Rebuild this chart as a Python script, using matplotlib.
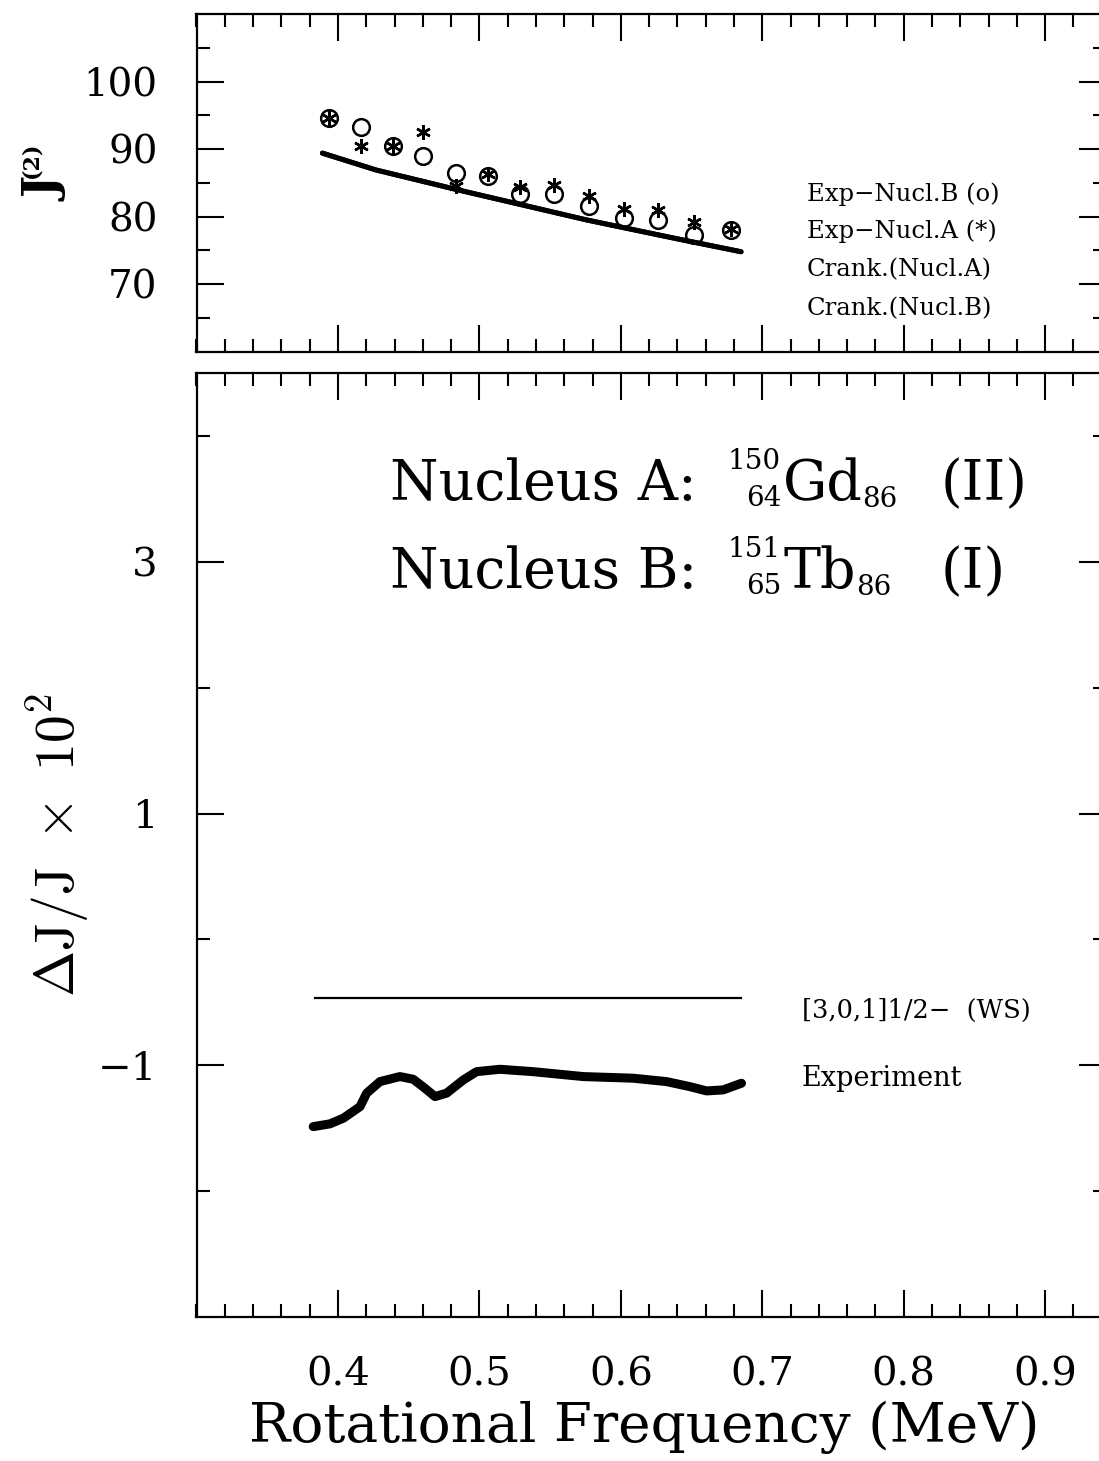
import matplotlib
matplotlib.use('Agg')
import matplotlib.pyplot as plt
from matplotlib.ticker import FixedLocator, FixedFormatter, NullFormatter

plt.rcParams['font.family'] = ['DejaVu Serif']
plt.rcParams['mathtext.fontset'] = 'cm'
plt.rcParams['axes.unicode_minus'] = True

# ---------------- data ----------------
omega_exp = [0.394, 0.4165, 0.439, 0.460, 0.4835, 0.506, 0.529, 0.553, 0.5776, 0.602, 0.626, 0.652, 0.678]
j2_nucl_b = [94.55, 93.3, 90.5, 89.0, 86.5, 86.0, 83.3, 83.3, 81.5, 79.8, 79.5, 77.3, 78.0]
j2_nucl_a = [94.6, 90.5, 90.5, 92.6, 84.5, 86.3, 84.4, 84.7, 83.0, 81.2, 81.0, 79.2, 78.2]

omega_crank = [0.389, 0.427, 0.486, 0.531, 0.576, 0.639, 0.685]
j2_crank_a = [89.4, 86.9, 83.9, 81.7, 79.5, 76.75, 74.8]
j2_crank_b = [89.4, 86.9, 83.9, 81.7, 79.5, 76.75, 74.8]

omega_dj = [0.3825, 0.3943, 0.4038, 0.4156, 0.4203, 0.4297, 0.4438, 0.4532, 0.4615, 0.4686,
            0.4768, 0.4886, 0.4980, 0.5145, 0.5380, 0.5734, 0.6087, 0.6323, 0.6488, 0.6606,
            0.6723, 0.6853]
dj_exp = [-1.489, -1.467, -1.422, -1.330, -1.223, -1.131, -1.091, -1.112, -1.184, -1.250,
          -1.223, -1.118, -1.052, -1.033, -1.052, -1.091, -1.104, -1.131, -1.171, -1.205,
          -1.197, -1.144]
omega_ws = [0.384, 0.685]
dj_ws = [-0.47, -0.47]

x_major = [0.4, 0.5, 0.6, 0.7, 0.8, 0.9]
x_labels = ['0.4', '0.5', '0.6', '0.7', '0.8', '0.9']
x_minor = [round(0.30 + 0.02 * i, 2) for i in range(33)]
top_y_major = [70, 80, 90, 100]
top_y_labels = ['70', '80', '90', '100']
top_y_minor = [65, 75, 85, 95, 105]
bot_y_major = [-1, 1, 3]
bot_y_labels = ['\u22121', '1', '3']
bot_y_minor = [-2, 0, 2, 4]

# ---------------- figure ----------------
W, H = 1099, 1461
fig = plt.figure(figsize=(W / 100, H / 100), dpi=100)

def fx(x):
    return x / W

def fy(y):
    return 1 - y / H

L, R = 196.5, 1106.0
ax1 = fig.add_axes([fx(L), fy(351.7), (R - L) / W, (351.7 - 14) / H])
ax2 = fig.add_axes([fx(L), fy(1316.7), (R - L) / W, (1316.7 - 373.3) / H])

for ax in (ax1, ax2):
    ax.set_xlim(0.3, 0.943)
    for s in ax.spines.values():
        s.set_linewidth(1.6)
    ax.xaxis.set_major_locator(FixedLocator(x_major))
    ax.xaxis.set_minor_locator(FixedLocator(x_minor))
    ax.tick_params(which='both', direction='in', top=True, right=True, width=1.5)
    ax.tick_params(which='major', length=19.5)
    ax.tick_params(which='minor', length=9.5)

# top panel
ax1.set_ylim(60, 110)
ax1.yaxis.set_major_locator(FixedLocator(top_y_major))
ax1.yaxis.set_major_formatter(FixedFormatter(top_y_labels))
ax1.yaxis.set_minor_locator(FixedLocator(top_y_minor))
ax1.xaxis.set_major_formatter(NullFormatter())
ax1.tick_params(axis='y', which='major', pad=28, labelsize=28)
ax1.plot(omega_crank, j2_crank_a, color='black', lw=3.6, solid_capstyle='round')
ax1.plot(omega_crank, j2_crank_b, color='black', lw=3.6, solid_capstyle='round')
ax1.plot(omega_exp, j2_nucl_b, linestyle='none', marker='o', ms=12, mfc='none',
         mec='black', mew=1.8)
ax1.plot(omega_exp, j2_nucl_a, linestyle='none', marker=(6, 2, 0), ms=10.5,
         mec='black', mew=1.8)

# bottom panel
ax2.set_ylim(-3, 4.5)
ax2.yaxis.set_major_locator(FixedLocator(bot_y_major))
ax2.yaxis.set_major_formatter(FixedFormatter(bot_y_labels))
ax2.yaxis.set_minor_locator(FixedLocator(bot_y_minor))
ax2.xaxis.set_major_formatter(FixedFormatter(x_labels))
ax2.tick_params(axis='y', which='major', pad=28, labelsize=29)
ax2.tick_params(axis='x', which='major', pad=29, labelsize=29)
ax2.plot(omega_ws, dj_ws, color='black', lw=1.6)
ax2.plot(omega_dj, dj_exp, color='black', lw=6.5, solid_capstyle='round',
         solid_joinstyle='round')

# ---------------- texts ----------------
for txt, y in [('Exp\u2212Nucl.B (o)', 194.3), ('Exp\u2212Nucl.A (*)', 231.7),
               ('Crank.(Nucl.A)', 270), ('Crank.(Nucl.B)', 308.3)]:
    fig.text(fx(806.7), fy(y), txt, fontsize=17.5, va='center', ha='left')

fig.text(fx(801.7), fy(1010), '[3,0,1]1/2\u2212  (WS)', fontsize=18.5, va='center', ha='left')
fig.text(fx(801.7), fy(1078.3), 'Experiment', fontsize=19.5, va='center', ha='left')

# nucleus labels: main text plus stacked mass/charge numbers
nuc_lines = [
    ('Nucleus A:', '150', '64', 'Gd', '86', 862, '(II)', 500),
    ('Nucleus B:', '151', '65', 'Tb', '86', 856, '(I)', 588),
]
for head, mass, charge, sym, neut, neut_x, roman, base in nuc_lines:
    fig.text(fx(390), fy(base), head, fontsize=40, va='baseline', ha='left')
    fig.text(fx(781), fy(base - 31), mass, fontsize=20, va='baseline', ha='right')
    fig.text(fx(781), fy(base + 6), charge, fontsize=20, va='baseline', ha='right')
    fig.text(fx(783), fy(base), sym, fontsize=40, va='baseline', ha='left')
    fig.text(fx(neut_x), fy(base + 7), neut, fontsize=20, va='baseline', ha='left')
    fig.text(fx(941), fy(base), roman, fontsize=40, va='baseline', ha='left')

fig.text(fx(644), fy(1427), 'Rotational Frequency (MeV)', fontsize=39.5, ha='center',
         va='center')
fig.text(fx(58), fy(845), r'$\Delta\mathrm{J}/\mathrm{J}\ \times\ 10^{2}$', fontsize=40,
         rotation=90, ha='center', va='center')
fig.text(fx(46), fy(190), 'J', fontsize=34, fontweight='bold', rotation=90,
         ha='center', va='center')
fig.text(fx(31), fy(160), '(2)', fontsize=16, fontweight='bold', rotation=90,
         ha='center', va='center')

fig.savefig('out.png', dpi=100)
